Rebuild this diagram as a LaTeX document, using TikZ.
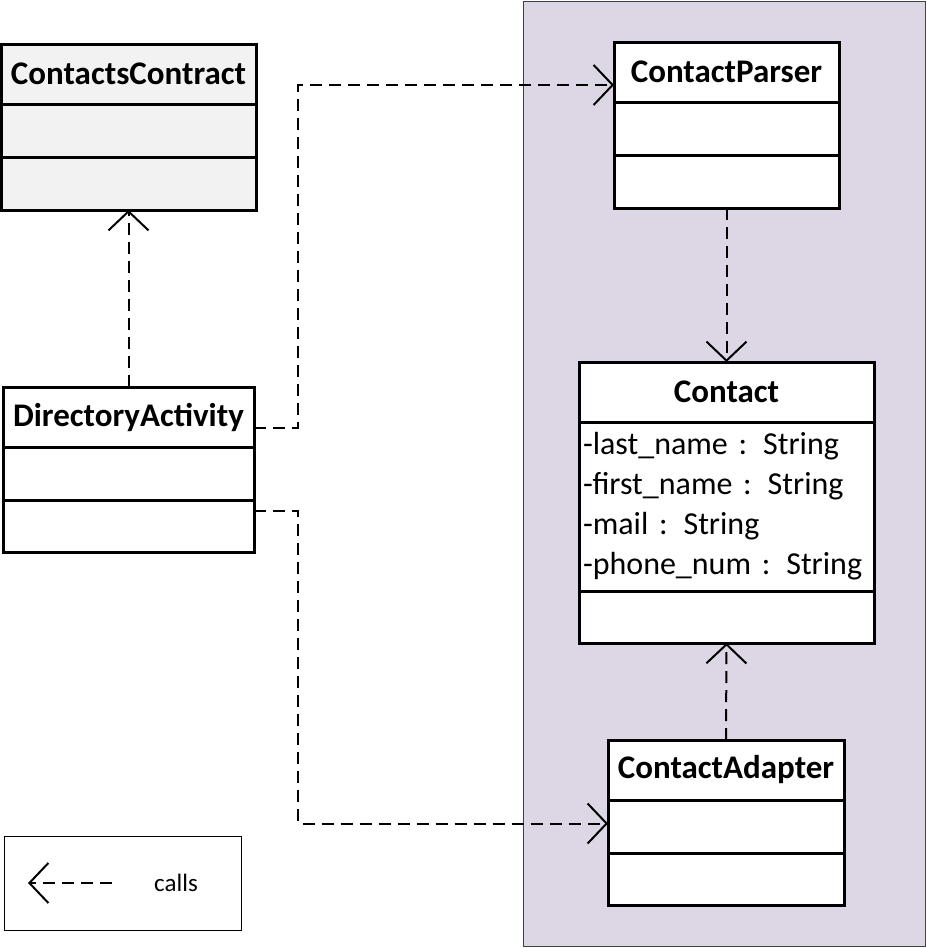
\documentclass[tikz,border=0pt]{standalone}
\usepackage{fontspec}
\setmainfont{Carlito}
\usetikzlibrary{arrows.meta}
\definecolor{panelfill}{RGB}{220,214,229}
\definecolor{contractfill}{RGB}{242,242,242}

\begin{document}
\begin{tikzpicture}[x=1pt,y=-1pt,
  classbox/.style={draw,line width=3pt,fill=white,inner sep=0pt,outer sep=0pt,anchor=north},
  header/.style={classbox,minimum height=60pt,font=\fontsize{33}{38}\selectfont\bfseries},
  part/.style={classbox,minimum height=53pt},
  calls/.style={line width=2pt,dash pattern=on 12pt off 7pt,-{Straight Barb[length=19pt,width=40pt]}}]
\useasboundingbox (0,0) rectangle (926,948);
\draw[draw=black!75,fill=panelfill,line width=1pt] (523,1) rectangle (925,946);

% ContactsContract
\draw (128.5,44) node[header,fill=contractfill,minimum width=255pt](cc) {ContactsContract};
\draw (cc.south) node[part,fill=contractfill,minimum width=255pt](cc-a) {};
\draw (cc-a.south) node[part,fill=contractfill,minimum width=255pt](cc-o) {};

% DirectoryActivity
\draw (128.5,387) node[header,minimum width=251pt](da) {DirectoryActivity};
\draw (da.south) node[part,minimum width=251pt](da-a) {};
\draw (da-a.south) node[part,minimum width=251pt,minimum height=52pt](da-o) {};

% ContactParser
\draw (726.5,42) node[header,minimum width=225pt](cp) {ContactParser};
\draw (cp.south) node[part,minimum width=225pt](cp-a) {};
\draw (cp-a.south) node[part,minimum width=225pt](cp-o) {};

% Contact
\draw (726.5,362) node[header,minimum width=295pt](ct) {Contact};
\draw (ct.south) node[part,minimum width=295pt,minimum height=169pt,text width=287pt,inner xsep=4pt,align=left,font=\fontsize{32}{40}\selectfont](ct-a) {-last\_name : String\\-first\_name : String\\-mail : String\\-phone\_num : String};
\draw (ct-a.south) node[part,minimum width=295pt,minimum height=52pt](ct-o) {};

% ContactAdapter
\draw (726,740) node[header,minimum width=236pt](cad) {ContactAdapter};
\draw (cad.south) node[part,minimum width=236pt](cad-a) {};
\draw (cad-a.south) node[part,minimum width=236pt,minimum height=52pt](cad-o) {};

% legend
\draw (122.5,883) node[draw,line width=1pt,minimum width=237pt,minimum height=94pt,inner sep=0pt](lg) {};
\node[font=\fontsize{25}{30}\selectfont] (lg-t) at (176,883) {calls};
\coordinate (lg-a) at (28,883);
\coordinate (lg-b) at (112,883);
\draw[calls] (lg-b) -- (lg-a);

% calls
\draw[calls] (da.north) -- (cc-o.south);
\draw[calls] ([yshift=-11pt]da.east) -- ++(44,0) |- ([yshift=-13pt]cp.west);
\draw[calls] ([yshift=-11pt]da-o.north east) -- ++(44,0) |- ([yshift=3pt]cad-a.west);
\draw[calls] (cp-o.south) -- (ct.north);
\draw[calls] (cad.north) -- (ct-o.south);
\end{tikzpicture}
\end{document}
